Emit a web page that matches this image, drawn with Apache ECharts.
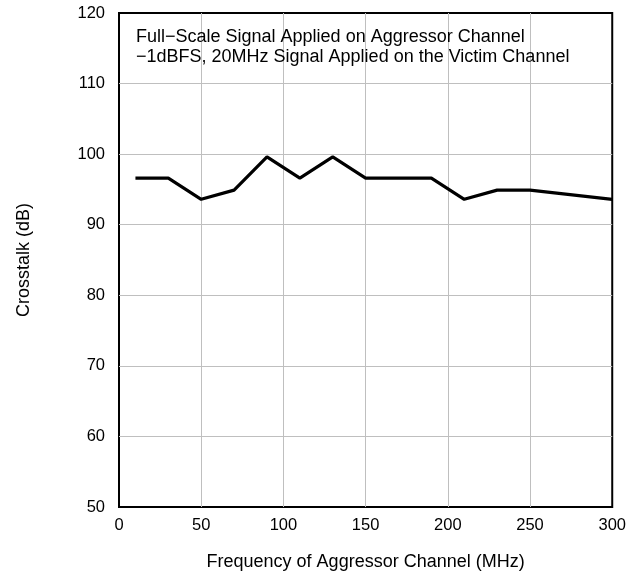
<!DOCTYPE html>
<html><head><meta charset="utf-8">
<script src="https://cdn.jsdelivr.net/npm/echarts@6/dist/echarts.min.js"></script>
<style>html,body{margin:0;padding:0;background:#fff}#c{width:629px;height:576px}</style>
</head><body><div id="c"></div>
<script>
const freq = [10, 30, 50, 70, 90, 110, 130, 150, 170, 190, 210, 230, 250, 300];
const crosstalk = [96.6, 96.6, 93.6, 94.9, 99.6, 96.6, 99.6, 96.6, 96.6, 96.6, 93.6, 94.9, 94.9, 93.6];
const xTicks = [0, 50, 100, 150, 200, 250, 300];
const yTicks = [50, 60, 70, 80, 90, 100, 110, 120];
const noteLines = ["Full\u2212Scale Signal Applied on Aggressor Channel", "\u22121dBFS, 20MHz Signal Applied on the Victim Channel"];
const xName = "Frequency of Aggressor Channel (MHz)";
const yName = "Crosstalk (dB)";

const font = "Liberation Sans, Arial, sans-serif";
const chart = echarts.init(document.getElementById('c'), null, {renderer: 'canvas'});
const split = {show: true, showMinLine: false, showMaxLine: false, lineStyle: {color: '#bfbfbf', width: 1}};
chart.setOption({
  animation: false,
  backgroundColor: '#fff',
  grid: {left: 119, right: 14, top: 13, bottom: 68, show: true, borderColor: '#000', borderWidth: 2, backgroundColor: 'transparent'},
  xAxis: {
    type: 'value', min: xTicks[0], max: xTicks[xTicks.length - 1], interval: 50,
    name: xName, nameLocation: 'middle', nameGap: 46,
    nameTextStyle: {fontFamily: font, fontSize: 18, color: '#000'},
    axisLine: {show: false}, axisTick: {show: false},
    axisLabel: {fontFamily: font, fontSize: 16.5, color: '#000', margin: 10},
    splitLine: split
  },
  yAxis: {
    type: 'value', min: yTicks[0], max: yTicks[yTicks.length - 1], interval: 10,
    name: yName, nameLocation: 'middle', nameGap: 86,
    nameTextStyle: {fontFamily: font, fontSize: 18, color: '#000'},
    axisLine: {show: false}, axisTick: {show: false},
    axisLabel: {fontFamily: font, fontSize: 16.5, color: '#000', margin: 14},
    splitLine: split
  },
  graphic: [{
    type: 'text', left: 136, top: 27, z: 100,
    style: {text: noteLines.join('\n'), fontFamily: font, fontSize: 18, lineHeight: 20, fill: '#000'}
  }],
  series: [{
    type: 'line', data: freq.map((f, i) => [f, crosstalk[i]]),
    symbol: 'none', lineStyle: {color: '#000', width: 3.2}
  }]
});
</script></body></html>
